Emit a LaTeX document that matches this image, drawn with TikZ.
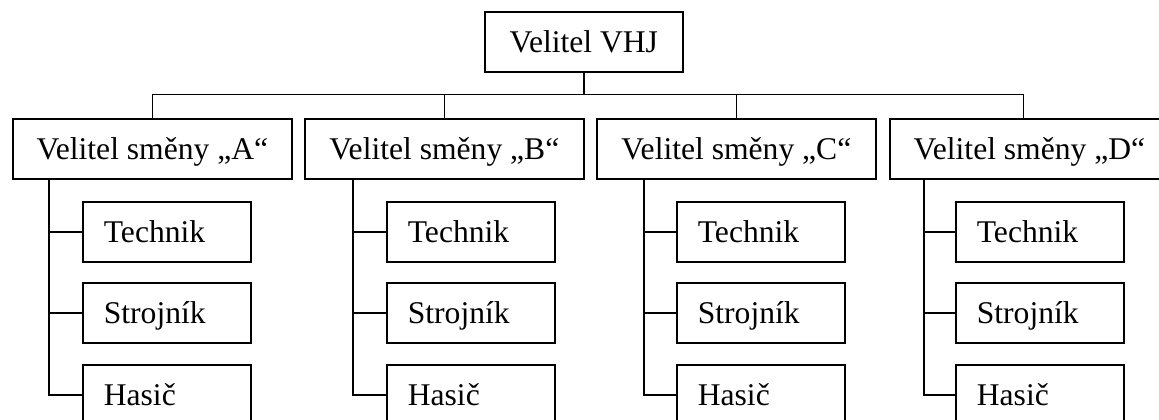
\documentclass[tikz,border=0pt]{standalone}
\usepackage{fontspec}
\setmainfont{Liberation Serif}
\usepackage{tikz}
\usetikzlibrary{calc}
\usetikzlibrary{positioning}

\tikzset{
  box/.style={draw, rectangle, line width=1.7pt, minimum height=60pt,
    inner ysep=0pt, inner xsep=21pt, text height=28pt, text depth=7pt},
  chief/.style={box, minimum width=198pt, anchor=north west},
  smenabox/.style={box, minimum width=279pt, anchor=north west},
  crew/.style={box, text width=126pt, align=left, anchor=north west},
  link/.style={line width=1.7pt}
}

\begin{document}
\begin{tikzpicture}[x=1pt, y=-1pt, font=\fontsize{31.6pt}{36pt}\selectfont]
    \useasboundingbox (0,0) rectangle (1159,420);

    \node[chief] (vhj) at (484,11) {Velitel VHJ};

    \node[smenabox] (smenaA) at (12,118) {Velitel směny „A“};
    \node[smenabox] (smenaB) at (304,118) {Velitel směny „B“};
    \node[smenabox] (smenaC) at (596,118) {Velitel směny „C“};
    \node[smenabox] (smenaD) at (889,118) {Velitel směny „D“};

    \node[crew] (technikA) at (82,201) {Technik};
    \node[crew] (strojnikA) at (82,282) {Strojník};
    \node[crew] (hasicA) at (82,364) {Hasič};
    \node[crew] (technikB) at (386,201) {Technik};
    \node[crew] (strojnikB) at (386,282) {Strojník};
    \node[crew] (hasicB) at (386,364) {Hasič};
    \node[crew] (technikC) at (676,201) {Technik};
    \node[crew] (strojnikC) at (676,282) {Strojník};
    \node[crew] (hasicC) at (676,364) {Hasič};
    \node[crew] (technikD) at (955,201) {Technik};
    \node[crew] (strojnikD) at (955,282) {Strojník};
    \node[crew] (hasicD) at (955,364) {Hasič};

    % sbernice pod velitelem
    \coordinate (bus) at (0,94.5);
    \draw[link] (vhj.south) -- (vhj.south |- bus);
    \draw[link] (smenaA.north) |- ([xshift=-6pt]smenaD.north |- bus) -- ([xshift=-6pt]smenaD.north);
    \draw[link] (smenaB.north) -- (smenaB.north |- bus);
    \draw[link] (smenaC.north) -- (smenaC.north |- bus);

    % smeny
    \coordinate (kA) at ([xshift=37pt]smenaA.south west);
    \coordinate (kB) at ([xshift=49pt]smenaB.south west);
    \coordinate (kC) at ([xshift=48pt]smenaC.south west);
    \coordinate (kD) at ([xshift=35pt]smenaD.south west);

    \draw[link] (kA) |- (hasicA.west);
    \draw[link] (kA |- technikA.west) -- (technikA.west);
    \draw[link] (kA |- strojnikA.west) -- (strojnikA.west);
    \draw[link] (kB) |- (hasicB.west);
    \draw[link] (kB |- technikB.west) -- (technikB.west);
    \draw[link] (kB |- strojnikB.west) -- (strojnikB.west);
    \draw[link] (kC) |- (hasicC.west);
    \draw[link] (kC |- technikC.west) -- (technikC.west);
    \draw[link] (kC |- strojnikC.west) -- (strojnikC.west);
    \draw[link] (kD) |- (hasicD.west);
    \draw[link] (kD |- technikD.west) -- (technikD.west);
    \draw[link] (kD |- strojnikD.west) -- (strojnikD.west);
\end{tikzpicture}
\end{document}
